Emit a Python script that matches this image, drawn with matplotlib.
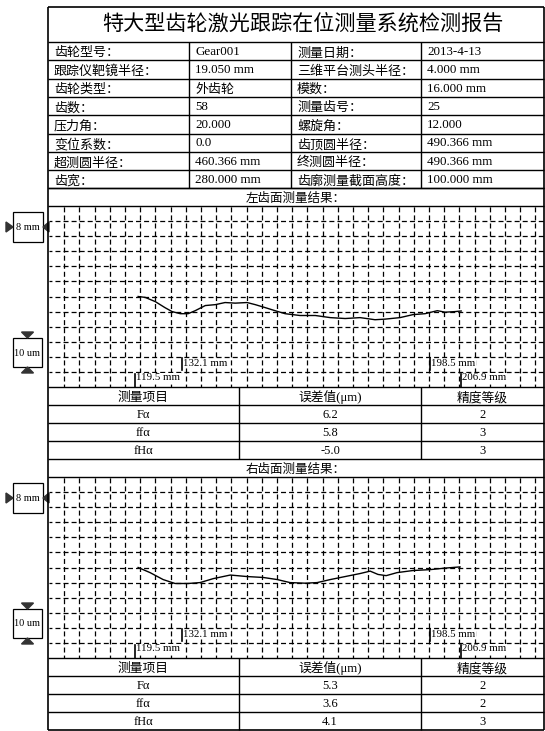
import matplotlib
matplotlib.use('Agg')
import matplotlib.pyplot as plt
import numpy as np
from matplotlib.patches import Rectangle, Polygon

plt.rcParams['font.family'] = ['Liberation Serif', 'Noto Sans CJK SC']
plt.rcParams['lines.scale_dashes'] = False

title = '特大型齿轮激光跟踪在位测量系统检测报告'
info_keys_l = ['齿轮型号：', '跟踪仪靶镜半径：', '齿轮类型：', '齿数：', '压力角：',
               '变位系数：', '超测圆半径：', '齿宽：']
info_vals_l = ['Gear001', '19.050 mm', '外齿轮', '58', '20.000', '0.0',
               '460.366 mm', '280.000 mm']
info_keys_r = ['测量日期：', '三维平台测头半径：', '模数：', '测量齿号：', '螺旋角：',
               '齿顶圆半径：', '终测圆半径：', '齿廓测量截面高度：']
info_vals_r = ['2013-4-13', '4.000 mm', '16.000 mm', '25', '12.000',
               '490.366 mm', '490.366 mm', '100.000 mm']

subtitles = ['左齿面测量结果：', '右齿面测量结果：']

# profile deviation traces: position (mm) / deviation (um)
left_x = [120.3, 122.2, 124.9, 127.5, 129.4, 131.6, 133.7, 135.6, 138.3, 141.0,
          143.6, 146.3, 149.5, 151.7, 154.4, 157.0, 159.7, 163.7, 167.8, 171.8,
          175.8, 179.8, 183.8, 186.5, 190.5, 194.0, 197.2, 200.5, 202.6, 205.3, 206.9]
left_y = [0.0, -0.3, -1.7, -3.7, -5.0, -5.7, -5.7, -4.7, -3.0, -2.7,
          -2.0, -2.2, -2.0, -2.7, -3.7, -4.7, -5.7, -6.3, -6.3, -7.0,
          -7.3, -7.0, -7.7, -7.5, -7.0, -6.0, -5.7, -4.7, -5.2, -5.0, -4.8]
right_x = [120.3, 123.5, 127.0, 130.2, 133.7, 136.9, 140.4, 145.0, 149.5, 153.8,
           157.6, 161.0, 165.1, 168.3, 171.8, 175.8, 179.8, 182.5, 184.6, 186.8,
           189.7, 194.0, 198.6, 202.6, 206.6]
right_y = [0.0, -1.7, -4.0, -5.3, -5.3, -5.0, -3.7, -2.5, -3.0, -3.3,
           -4.0, -5.0, -5.2, -5.0, -4.0, -3.0, -2.0, -1.2, -2.3, -2.7,
           -1.7, -1.0, -0.7, -0.2, 0.2]

marks_mm = [119.5, 132.1, 198.5, 206.9]
marks_low = [True, False, False, True]

items = ['Fα', 'ffα', 'fHα']
left_err = [6.2, 5.8, -5.0]
left_grade = [2, 3, 3]
right_err = [5.3, 3.6, 4.1]
right_grade = [2, 2, 3]

W, H = 545, 731
fig = plt.figure(figsize=(W / 100, H / 100), dpi=100)
pg = fig.add_axes([0, 0, 1, 1], zorder=0)
pg.set_xlim(0, W)
pg.set_ylim(H, 0)
pg.axis('off')

L, R = 48, 544
TOP, BOT = 7, 730


def hl(y, x0=L, x1=R, lw=1.0):
    pg.plot([x0, x1], [y, y], color='k', lw=lw, solid_capstyle='butt')


def vl(x, y0, y1, lw=1.0):
    pg.plot([x, x], [y0, y1], color='k', lw=lw, solid_capstyle='butt')


def txt(x, y, s, **kw):
    # CJK glyphs sit high with va=center, nudge them down
    n_cjk = sum(ord(ch) > 0x2e80 for ch in s)
    if n_cjk == len(s):
        dy = 2.2
    elif n_cjk:
        dy = 0.6
    else:
        dy = 0.8
    pg.text(x, y + dy, s, va='center', **kw)


# outer frame
hl(TOP, lw=1.2)
hl(BOT, lw=1.2)
vl(L, TOP, BOT, lw=1.2)
vl(R, TOP, BOT, lw=1.2)

txt(303, 23, title, fontsize=15.2, ha='center')

# info table
t0, rh = 42, 18.3
cols = [L, 189, 291, 421]
for i in range(9):
    hl(t0 + i * rh)
for c in cols[1:]:
    vl(c, t0, t0 + 8 * rh)
for i in range(8):
    yc = t0 + (i + 0.5) * rh
    for c, s in zip(cols, [info_keys_l[i], info_vals_l[i], info_keys_r[i], info_vals_r[i]]):
        txt(c + 6, yc, s, fontsize=9.4, ha='left')

panels = [(t0 + 8 * rh, 206, 387, 459), (459, 477, 658, 730)]
traces = [(left_x, left_y), (right_x, right_y)]
results = [(left_err, left_grade), (right_err, right_grade)]

xlim = (96.4, 229.1)
xstep = 4.075

for k, (s_top, g_top, tb_top, tb_end) in enumerate(panels):
    hl(s_top)
    hl(g_top)
    txt((L + R) / 2, (s_top + g_top) / 2, subtitles[k], fontsize=9, ha='center')

    ax = fig.add_axes([49 / W, 1 - tb_top / H, (R - 49) / W, (tb_top - g_top) / H], zorder=1)
    ax.set_facecolor('none')
    ax.set_xlim(*xlim)
    ax.set_ylim(-30, 30)
    ax.set_xticks(np.arange(xlim[0] + xstep, xlim[1] - 1, xstep))
    ax.set_yticks(np.arange(-25, 30, 5))
    ax.tick_params(length=0, labelbottom=False, labelleft=False)
    ax.grid(True, color='k', lw=0.9, ls=(1.5, (3.6, 2.2)))
    for sp in ax.spines.values():
        sp.set_visible(False)

    px, py = traces[k]
    ax.plot(px, py, color='k', lw=1.0, zorder=3)

    for m, low in zip(marks_mm, marks_low):
        y0, y1, yt = (-30, -25.7, -27.0) if low else (-24.3, -20.3, -22.2)
        ax.plot([m, m], [y0, y1], color='k', lw=1.2, zorder=4)
        ax.text(m + 0.3, yt, f'{m:.1f} mm', fontsize=7.8, ha='left', va='center',
                zorder=5, bbox=dict(facecolor='white', edgecolor='none', pad=0.3))

    # scale boxes
    b_top = g_top + 6
    pg.add_patch(Rectangle((13, b_top), 30, 30, fill=False, ec='k', lw=0.9))
    pg.text(28, b_top + 15.5, '8 mm', fontsize=7.5, ha='center', va='center')
    cy = b_top + 15
    pg.add_patch(Polygon([(6, cy - 5), (6, cy + 5), (13, cy)], color='#333333'))
    pg.add_patch(Polygon([(49, cy - 5), (49, cy + 5), (43, cy)], color='#333333'))

    u_top = g_top + 132
    pg.add_patch(Rectangle((13, u_top), 29, 29, fill=False, ec='k', lw=0.9))
    pg.text(27.5, u_top + 15, '10 um', fontsize=7.5, ha='center', va='center')
    pg.add_patch(Polygon([(21.5, u_top - 6), (33.5, u_top - 6), (27.5, u_top)], color='#333333'))
    pg.add_patch(Polygon([(21.5, u_top + 35), (33.5, u_top + 35), (27.5, u_top + 29)], color='#333333'))

    # result table
    hl(tb_top)
    trh = (tb_end - tb_top) / 4
    for i in range(1, 4):
        hl(tb_top + i * trh)
    tcols = [L, 239, 421, R]
    for c in tcols[1:3]:
        vl(c, tb_top, tb_end)
    cx = [(tcols[j] + tcols[j + 1]) / 2 for j in range(3)]
    for j, hdr in enumerate(['测量项目', '误差值(μm)', '精度等级']):
        txt(cx[j], tb_top + trh / 2, hdr, fontsize=9.2, ha='center')
    err, grade = results[k]
    for i in range(3):
        yc = tb_top + (i + 1.5) * trh
        txt(cx[0], yc, items[i], fontsize=9, ha='center')
        txt(cx[1], yc, f'{err[i]:.1f}', fontsize=9, ha='center')
        txt(cx[2], yc, str(grade[i]), fontsize=9, ha='center')

fig.savefig('out.png', dpi=100)
